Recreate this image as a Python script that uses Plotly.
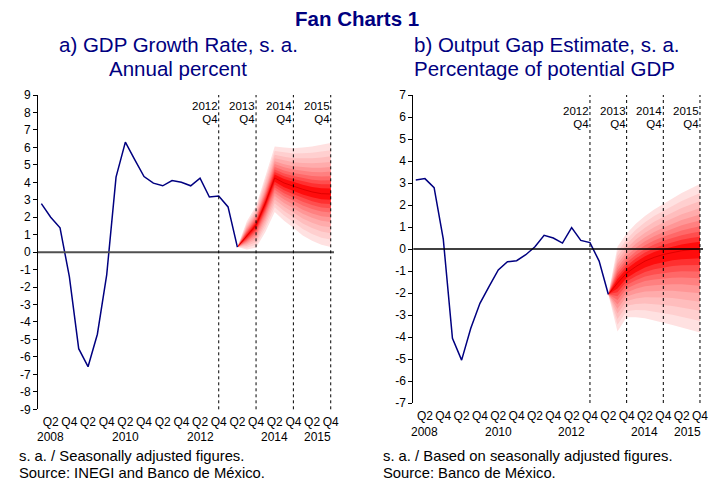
import plotly.graph_objects as go

W, H = 715, 481
FONT = "Liberation Sans, Arial, sans-serif"
NAVY = "#000080"

# ---------------- data ----------------
quarters = [f"{y}Q{q}" for y in range(2008, 2016) for q in range(1, 5)]
hist_quarters = quarters[:22]          # 2008Q1 .. 2013Q2
fan_quarters = quarters[21:]           # 2013Q2 .. 2015Q4

gdp_growth = [2.78, 2.0, 1.39, -1.4, -5.53, -6.56, -4.7, -1.3, 4.3, 6.3, 5.3, 4.33,
              3.95, 3.8, 4.1, 4.0, 3.8, 4.24, 3.16, 3.21, 2.59, 0.29]
gdp_fan_center = [0.29, 0.91, 1.55, 2.8, 4.25, 3.96, 3.77, 3.6, 3.45, 3.35, 3.33]
gdp_fan_upper = [0.29, 1.75, 2.65, 4.3, 6.05, 6.0, 5.95, 6.0, 6.05, 6.15, 6.25]
gdp_fan_lower = [0.29, 0.15, 0.25, 1.15, 2.3, 1.8, 1.4, 0.95, 0.65, 0.42, 0.3]

output_gap = [3.14, 3.2, 2.79, 0.45, -4.06, -5.05, -3.6, -2.47, -1.7, -0.95, -0.58, -0.53,
              -0.26, 0.1, 0.62, 0.5, 0.27, 0.97, 0.39, 0.29, -0.55, -2.06]
gap_fan_center = [-2.06, -1.55, -1.1, -0.8, -0.55, -0.38, -0.25, -0.15, -0.08, -0.03, 0.0]
gap_fan_upper = [-2.06, 0.1, 0.7, 1.15, 1.5, 1.8, 2.05, 2.3, 2.55, 2.75, 2.95]
gap_fan_lower = [-2.06, -3.75, -3.1, -3.1, -3.15, -3.25, -3.35, -3.45, -3.55, -3.68, -3.8]

band_levels = [1.0, 0.86, 0.74, 0.63, 0.53, 0.44, 0.35, 0.27, 0.19, 0.11]
band_colors = ["#FFE1E1", "#FFCFCF", "#FFBDBD", "#FFABAB", "#FF9696",
               "#FF8080", "#FF6868", "#FF4E4E", "#FF3030", "#FF0C0C"]

tick_quarters = [q for q in quarters if q.endswith("Q2") or q.endswith("Q4")]
tick_text = [q[-2:] for q in tick_quarters]
left_yticks = list(range(-9, 10))
right_yticks = list(range(-7, 8))
marker_quarters = ["2012Q4", "2013Q4", "2014Q4", "2015Q4"]
year_labels = ["2008", "2010", "2012", "2014", "2015"]
year_positions = [1, 9, 17, 25, 29.6]

# ---------------- figure ----------------
fig = go.Figure()


def add_fan(xa, ya, center, upper, lower):
    for lvl, col in zip(band_levels, band_colors):
        up = [c + lvl * (u - c) for c, u in zip(center, upper)]
        lo = [c + lvl * (l - c) for c, l in zip(center, lower)]
        fig.add_trace(go.Scatter(
            x=fan_quarters + fan_quarters[::-1], y=up + lo[::-1],
            fill="toself", fillcolor=col, line=dict(width=0), mode="lines",
            xaxis=xa, yaxis=ya, hoverinfo="skip", showlegend=False))
    fig.add_trace(go.Scatter(x=fan_quarters, y=center, mode="lines",
                             line=dict(color="#E00000", width=1),
                             xaxis=xa, yaxis=ya, showlegend=False))


add_fan("x", "y", gdp_fan_center, gdp_fan_upper, gdp_fan_lower)
add_fan("x2", "y2", gap_fan_center, gap_fan_upper, gap_fan_lower)

fig.add_trace(go.Scatter(x=hist_quarters, y=gdp_growth, mode="lines",
                         line=dict(color=NAVY, width=1.5), xaxis="x", yaxis="y",
                         showlegend=False))
fig.add_trace(go.Scatter(x=hist_quarters, y=output_gap, mode="lines",
                         line=dict(color=NAVY, width=1.5), xaxis="x2", yaxis="y2",
                         showlegend=False))


def py(p):
    return 1 - p / H


def px(p):
    return p / W


tickfont = dict(family=FONT, size=12, color="#000000")
xcommon = dict(type="category", categoryorder="array", categoryarray=quarters,
               tickmode="array", tickvals=tick_quarters, ticktext=tick_text,
               showgrid=False, zeroline=False, showline=False, ticks="",
               tickfont=tickfont, tickangle=0, ticklabelstandoff=4, automargin=False)
ycommon = dict(showgrid=False, zeroline=False, showline=True, linecolor="#000000",
               linewidth=1, ticks="outside", ticklen=4, tickcolor="#000000",
               tickmode="array", tickfont=tickfont, automargin=False)

fig.update_layout(
    width=W, height=H, autosize=False,
    margin=dict(l=0, r=0, t=0, b=0, pad=0, autoexpand=False),
    paper_bgcolor="white", plot_bgcolor="white", showlegend=False,
    font=dict(family=FONT),
    xaxis=dict(domain=[px(38), px(334)], range=[-0.36, 31.35], anchor="y", **xcommon),
    yaxis=dict(domain=[py(409.3), py(95)], range=[-9, 9], anchor="x",
               tickvals=left_yticks, ticktext=[str(v) for v in left_yticks], **ycommon),
    xaxis2=dict(domain=[px(413.3), px(703)], range=[-0.27, 31.33], anchor="y2", **xcommon),
    yaxis2=dict(domain=[py(403), py(95)], range=[-7, 7], anchor="x2",
                tickvals=right_yticks, ticktext=[str(v) for v in right_yticks], **ycommon),
)

shapes = []
annotations = []
for xa, ya, zcol, zw in (("x", "y", "#505050", 2), ("x2", "y2", "#000000", 1.5)):
    shapes.append(dict(type="line", xref=f"{xa} domain", yref=ya, x0=0, x1=1, y0=0, y1=0,
                       line=dict(color=zcol, width=zw), layer="above"))
    for q in marker_quarters:
        shapes.append(dict(type="line", xref=xa, yref=f"{ya} domain", x0=q, x1=q, y0=0, y1=1,
                           line=dict(color="#000000", width=1, dash="dot"), layer="above"))

# line spacing follows the base font size (1.3 x size); the visible size is set per span
labelfont = dict(family=FONT, size=10, color="#000000")
label_centers = {"x": 112.8, "x2": 117.5}
for xa in ("x", "x2"):
    for q in marker_quarters:
        annotations.append(dict(
            x=q, xref=xa, y=py(label_centers[xa]), yref="paper",
            text=(f"<span style='font-size:11.5px'>{q[:4]}</span><br>"
                  f"<span style='font-size:11.5px'>{q[-2:]}</span>"),
            align="right", xanchor="right", yanchor="middle", showarrow=False,
            font=labelfont, borderpad=0))

year_rows = {"x": 437, "x2": 432}
for xa in ("x", "x2"):
    for lab, pos in zip(year_labels, year_positions):
        annotations.append(dict(x=pos, xref=xa, y=py(year_rows[xa]), yref="paper", text=lab,
                                xanchor="center", yanchor="middle", showarrow=False,
                                font=tickfont))

titlefont = dict(family=FONT, size=20.5, color=NAVY)
annotations += [
    dict(x=px(357), y=py(18), text="<b>Fan Charts 1</b>", font=dict(family=FONT, size=20.5, color=NAVY)),
    dict(x=px(178), y=py(45), text="a) GDP Growth Rate, s. a.", font=titlefont),
    dict(x=px(178), y=py(69), text="Annual percent", font=titlefont),
    dict(x=px(546), y=py(45), text="b) Output Gap Estimate, s. a.", font=titlefont),
    dict(x=px(544), y=py(69), text="Percentage of potential GDP", font=titlefont),
]
for a in annotations[-5:]:
    a.update(xref="paper", yref="paper", xanchor="center", yanchor="middle", showarrow=False)

notefont = dict(family=FONT, size=12.7, color="#000000")
footnotes = [(18, ["s. a. / Seasonally adjusted figures.", "Source: INEGI and Banco de México."]),
             (382, ["s. a. / Based on seasonally adjusted figures.", "Source: Banco de México."])]
for x0, lines in footnotes:
    text = "<br>".join(f"<span style='font-size:14.8px'>{t}</span>" for t in lines)
    annotations.append(dict(x=px(x0), y=py(464.3), xref="paper", yref="paper", text=text,
                            align="left", xanchor="left", yanchor="middle", showarrow=False,
                            font=notefont, borderpad=0))

fig.update_layout(shapes=shapes, annotations=annotations)
fig.write_html("out.html", config={"displayModeBar": False},
               post_script="document.body.style.margin='0px';")
